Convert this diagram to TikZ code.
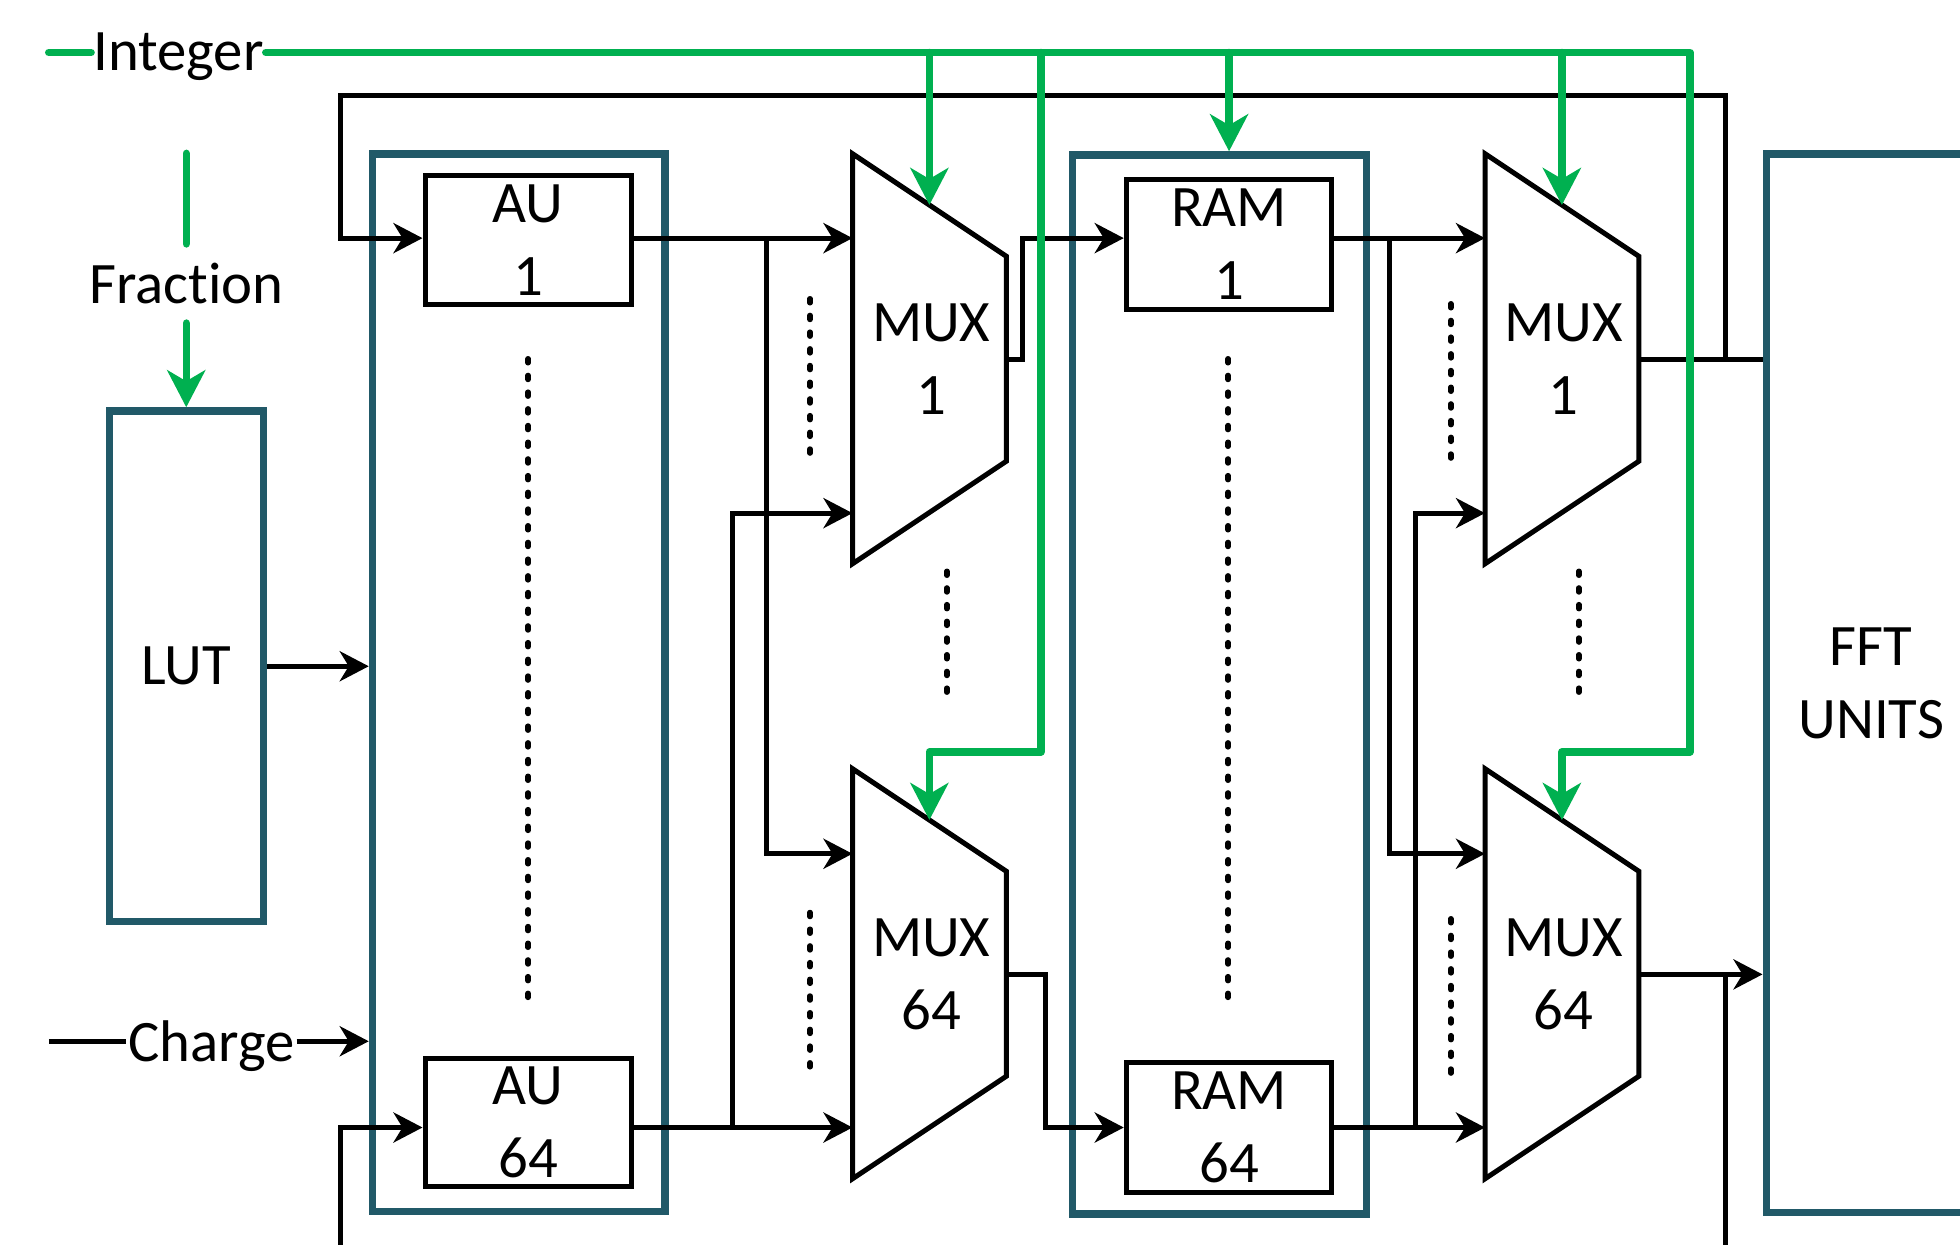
\documentclass[tikz,border=0pt]{standalone}
\usepackage{fontspec}
\setmainfont{Carlito}[Ligatures=NoCommon]
\usetikzlibrary{arrows.meta,calc}
\definecolor{tealc}{RGB}{33,89,104}
\definecolor{grnc}{RGB}{0,176,80}
\newcommand{\dtxt}{\fontsize{58.75}{72.5}\selectfont}
% name, x of left edge, y of top-left corner, label
\newcommand{\mymux}[4]{%
  \coordinate (#1-tl) at (#2,#3);
  \coordinate (#1-tr) at (#2+123,#3+82);
  \coordinate (#1-br) at (#2+123,#3+246);
  \coordinate (#1-bl) at (#2,#3+328);
  \coordinate (#1-l) at (#2,#3+164);
  \coordinate (#1-r) at (#2+123,#3+164.5);
  \coordinate (#1-tm) at ($(#1-tl)!0.5!(#1-tr)$);
  \draw[blk] (#1-tl) -- (#1-tr) -- (#1-br) -- (#1-bl) -- cycle;
  \node[font=\dtxt,align=center,inner sep=0pt] (#1) at (#2+63,#3+164.5) {#4};
}
\begin{document}
\begin{tikzpicture}[x=1.25pt,y=-1.25pt,
  blk/.style={draw=black,line width=5pt},
  arr/.style={-{Stealth[length=29pt,width=30pt,inset=9pt]}},
  grn/.style={draw=grnc,line width=7.5pt,line join=round,line cap=round},
  garr/.style={-{Stealth[length=37pt,width=38pt,inset=11pt]}},
  tealbox/.style={draw=tealc,line width=7.5pt,inner sep=0pt},
  blkbox/.style={draw=black,line width=5pt,inner sep=0pt,align=center,font=\dtxt},
  lbl/.style={font=\dtxt,inner sep=2pt},
  dotl/.style={draw=black,line width=5.5pt,line cap=round,dash pattern=on 4pt off 12.7pt},
]
\clip (0,0) rectangle (1568,996);
\fill[white] (0,0) rectangle (1568,996);

% helper coordinates (rows and rails)
\coordinate (rA) at (0,190.5);
\coordinate (rB) at (0,902);
\coordinate (rC) at (0,410.5);
\coordinate (rD) at (0,683);
\coordinate (bot) at (0,1000);
\coordinate (bx1) at (613.4,0);
\coordinate (bx2) at (585.7,0);
\coordinate (bx3) at (1111.8,0);
\coordinate (bx4) at (1132.3,0);
\coordinate (ox1) at (818,0);
\coordinate (ox2) at (836.5,0);
\coordinate (fbL) at (272,76.5);
\coordinate (fbR) at (1380,76.5);

% teal containers
\node[tealbox,minimum width=154pt,minimum height=510.5pt,font=\dtxt] (lut) at (149,533) {LUT};
\node[tealbox,minimum width=292.5pt,minimum height=1057.5pt] (auc) at (415,546) {};
\node[tealbox,minimum width=293.75pt,minimum height=1058.75pt] (ramc) at (975.5,547.5) {};
\node[tealbox,minimum width=210pt,minimum height=1058.75pt,align=center,font=\dtxt] (fft) at (1497,546.5) {FFT\\UNITS};

% black boxes
\node[blkbox,minimum width=206.25pt,minimum height=128.75pt] (au1) at (422.5,192) {AU\\1};
\node[blkbox,minimum width=206.25pt,minimum height=128.75pt] (au64) at (422.5,898) {AU\\64};
\node[blkbox,minimum width=205.6pt,minimum height=130pt] (ram1) at (983.25,195.5) {RAM\\1};
\node[blkbox,minimum width=205.6pt,minimum height=130pt] (ram64) at (983.25,901.8) {RAM\\64};

% multiplexers
\mymux{m1a}{682}{123}{MUX\\1}
\mymux{m64a}{682}{615}{MUX\\64}
\mymux{m1b}{1188}{123}{MUX\\1}
\mymux{m64b}{1188}{615}{MUX\\64}

% dotted ellipses
\draw[dotl] (422.5,287) -- (422.5,807);
\draw[dotl] (648,239) -- (648,367);
\draw[dotl] (648,730) -- (648,859);
\draw[dotl] (757.4,457) -- (757.4,559);
\draw[dotl] (982.5,287) -- (982.5,808);
\draw[dotl] (1160.6,243) -- (1160.6,374);
\draw[dotl] (1160.6,735) -- (1160.6,864);
\draw[dotl] (1263,457) -- (1263,559);

% inputs on the left
\draw[blk,arr] (lut.east) -- (auc.west |- lut.east);
\node[lbl,anchor=base] (chg) at (169,849.2) {Charge};
\coordinate (cstart) at (39,833);
\draw[blk] (cstart) -- (chg.west |- cstart);
\draw[blk,arr] (chg.east |- cstart) -- (auc.west |- cstart);

% stage 1
\draw[blk,arr] (au1.east |- rA) -- (m1a-l |- rA);
\draw[blk,arr] (bx1 |- rA) |- (m64a-l |- rD);
\draw[blk,arr] (au64.east |- rB) -- (m64a-l |- rB);
\draw[blk,arr] (bx2 |- rB) |- (m1a-l |- rC);
\draw[blk,arr] (m1a-r) -- (ox1 |- m1a-r) |- (ram1.west |- rA);
\draw[blk,arr] (m64a-r) -- (ox2 |- m64a-r) |- (ram64.west |- rB);

% stage 2
\draw[blk,arr] (ram1.east |- rA) -- (m1b-l |- rA);
\draw[blk,arr] (bx3 |- rA) |- (m64b-l |- rD);
\draw[blk,arr] (ram64.east |- rB) -- (m64b-l |- rB);
\draw[blk,arr] (bx4 |- rB) |- (m1b-l |- rC);
\draw[blk] (m1b-r) -- (fft.west |- m1b-r);
\draw[blk,arr] (m64b-r) -- (fft.west |- m64b-r);

% feedback loops
\draw[blk,arr] (fbR |- m1b-r) -- (fbR) -- (fbL) |- (au1.west |- rA);
\draw[blk] (fbR |- m64b-r) -- (fbR |- bot);
\draw[blk,arr] (fbL |- bot) |- (au64.west |- rB);

% green control lines
\node[lbl,anchor=base] (intlbl) at (142.75,56.75) {Integer};
\coordinate (istart) at (39,42);
\coordinate (gA) at (832.6,601.5);
\coordinate (gB) at (1352,601.5);
\draw[grn] (istart) -- (intlbl.west |- istart);
\draw[grn,garr] (intlbl.east |- istart) -- (gB |- istart) -- (gB) -| (m64b-tm);
\draw[grn,garr] (m1a-tm |- istart) -- (m1a-tm);
\draw[grn,garr] (gA |- istart) -- (gA) -| (m64a-tm);
\draw[grn,garr] (ram1.center |- istart) -- (ram1.center |- ramc.north);
\draw[grn,garr] (m1b-tm |- istart) -- (m1b-tm);

\node[font=\dtxt,inner sep=19pt] (frac) at (149,226.8) {Fract\kern0pt ion};
\coordinate (ftop) at (149,122.7);
\draw[grn] (ftop) -- (frac.north);
\draw[grn,garr] (frac.south) -- (lut.north);
\end{tikzpicture}
\end{document}
